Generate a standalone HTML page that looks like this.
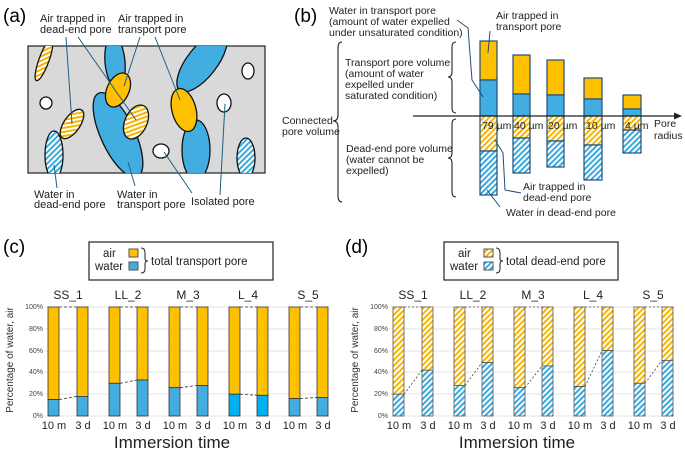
<!DOCTYPE html>
<html><head><meta charset="utf-8"><style>
html,body{margin:0;padding:0;background:#fff}
svg{display:block;font-family:"Liberation Sans",sans-serif}
</style></head><body>
<svg width="685" height="451" viewBox="0 0 685 451" xmlns="http://www.w3.org/2000/svg">
<defs>
<pattern id="hy" width="4" height="4" patternUnits="userSpaceOnUse" patternTransform="rotate(45)">
<rect width="4" height="4" fill="#fff"/><rect width="2" height="4" fill="#f7b500"/></pattern>
<pattern id="hb" width="4" height="4" patternUnits="userSpaceOnUse" patternTransform="rotate(45)">
<rect width="4" height="4" fill="#fff"/><rect width="2" height="4" fill="#3aa9dc"/></pattern>
<clipPath id="ca"><rect x="28" y="46" width="237" height="127"/></clipPath>
</defs>

<!-- (a) -->
<text x="3" y="22" font-size="19">(a)</text>
<rect x="28" y="46" width="237" height="127" fill="#d9d9d9" stroke="#222" stroke-width="1.2"/>
<g clip-path="url(#ca)" stroke="#111" stroke-width="1.3">
<ellipse cx="44" cy="60" rx="5" ry="22" transform="rotate(20 44 60)" fill="url(#hy)"/>
<ellipse cx="54" cy="155" rx="9" ry="24" fill="url(#hb)"/>
<ellipse cx="72" cy="124" rx="8" ry="17" transform="rotate(35 72 124)" fill="url(#hy)"/>
<ellipse cx="115" cy="62" rx="10" ry="26" transform="rotate(-5 115 62)" fill="#41ade0"/>
<ellipse cx="118" cy="135" rx="17" ry="46" transform="rotate(-25 118 135)" fill="#41ade0"/>
<ellipse cx="118" cy="90" rx="11" ry="18" transform="rotate(25 118 90)" fill="#ffc000"/>
<ellipse cx="136" cy="122" rx="11" ry="18" transform="rotate(25 136 122)" fill="url(#hy)"/>
<ellipse cx="202" cy="62" rx="15" ry="36" transform="rotate(38 202 62)" fill="#41ade0"/>
<ellipse cx="196" cy="150" rx="14" ry="30" fill="#41ade0"/>
<ellipse cx="184" cy="110" rx="12" ry="22" transform="rotate(-15 184 110)" fill="#ffc000"/>
<ellipse cx="46" cy="103" rx="6" ry="6" fill="#fff"/>
<ellipse cx="161" cy="151" rx="8" ry="7" fill="#fff"/>
<ellipse cx="248" cy="71" rx="6" ry="8" fill="#fff"/>
<ellipse cx="224" cy="103" rx="7" ry="9" fill="#fff"/>
<ellipse cx="246" cy="158" rx="9" ry="20" fill="url(#hb)"/>
</g>
<g stroke="#1f5f80" stroke-width="1" fill="none">
<line x1="66" y1="37" x2="72" y2="124"/>
<line x1="78" y1="37" x2="136" y2="120"/>
<line x1="140" y1="37" x2="124" y2="86"/>
<line x1="155" y1="37" x2="180" y2="100"/>
<line x1="54" y1="165" x2="57" y2="188"/>
<line x1="128" y1="162" x2="135" y2="186"/>
<line x1="164" y1="152" x2="192" y2="193"/>
<line x1="225" y1="104" x2="220" y2="195"/>
</g>
<g font-size="11" fill="#222">
<text x="40" y="22">Air trapped in</text><text x="40" y="33">dead-end pore</text>
<text x="118" y="22">Air trapped in</text><text x="118" y="33">transport pore</text>
<text x="34" y="198">Water in</text><text x="34" y="208">dead-end pore</text>
<text x="117" y="198">Water in</text><text x="117" y="208">transport pore</text>
<text x="191" y="205">Isolated pore</text>
</g>

<!-- (b) -->
<text x="294" y="22" font-size="19">(b)</text>
<g font-size="10.5" fill="#222">
<text x="329" y="14">Water in transport pore</text>
<text x="329" y="25">(amount of water expelled</text>
<text x="329" y="36">under unsaturated condition)</text>
<text x="496" y="19">Air trapped in</text><text x="496" y="30">transport pore</text>
<text x="345" y="66">Transport pore volume</text>
<text x="345" y="77">(amount of water</text>
<text x="345" y="88">expelled under</text>
<text x="345" y="99">saturated condition)</text>
<text x="282" y="124">Connected</text><text x="282" y="135">pore volume</text>
<text x="346" y="152">Dead-end pore volume</text>
<text x="346" y="163">(water cannot be</text>
<text x="346" y="174">expelled)</text>
<text x="523" y="190">Air trapped in</text><text x="523" y="201">dead-end pore</text>
<text x="506" y="216">Water in dead-end pore</text>
<text x="654" y="127">Pore</text><text x="654" y="139">radius</text>
</g>
<g stroke="#222" stroke-width="1.1" fill="none">
<path d="M342 42 Q338 42 338 48 L338 115 Q338 121 333 121 Q338 121 338 127 L338 196 Q338 202 342 202"/>
<path d="M456 42 Q452 42 452 47 L452 72 Q452 77 448 77 Q452 77 452 82 L452 108 Q452 113 456 113"/>
<path d="M456 119 Q452 119 452 124 L452 153 Q452 158 448 158 Q452 158 452 163 L452 192 Q452 197 456 197"/>
</g>
<g stroke="#1f4e79" stroke-width="1.2">
<rect x="480" y="41" width="17" height="39" fill="#ffc000"/><rect x="480" y="80" width="17" height="36" fill="#41ade0"/>
<rect x="480" y="116" width="17" height="35" fill="url(#hy)"/><rect x="480" y="151" width="17" height="44" fill="url(#hb)"/>
<rect x="513" y="55" width="17" height="39" fill="#ffc000"/><rect x="513" y="94" width="17" height="22" fill="#41ade0"/>
<rect x="513" y="116" width="17" height="22" fill="url(#hy)"/><rect x="513" y="138" width="17" height="35" fill="url(#hb)"/>
<rect x="547" y="60" width="17" height="35" fill="#ffc000"/><rect x="547" y="95" width="17" height="21" fill="#41ade0"/>
<rect x="547" y="116" width="17" height="25" fill="url(#hy)"/><rect x="547" y="141" width="17" height="26" fill="url(#hb)"/>
<rect x="584" y="78" width="18" height="21" fill="#ffc000"/><rect x="584" y="99" width="18" height="17" fill="#41ade0"/>
<rect x="584" y="116" width="18" height="29" fill="url(#hy)"/><rect x="584" y="145" width="18" height="35" fill="url(#hb)"/>
<rect x="623" y="95" width="18" height="14" fill="#ffc000"/><rect x="623" y="109" width="18" height="7" fill="#41ade0"/>
<rect x="623" y="116" width="18" height="14" fill="url(#hy)"/><rect x="623" y="130" width="18" height="23" fill="url(#hb)"/>
</g>
<line x1="413" y1="116" x2="676" y2="116" stroke="#222" stroke-width="1.2"/>
<polygon points="682,116 674,112.5 674,119.5" fill="#222"/>
<g font-size="10.5" fill="#222">
<text x="482" y="129">79 µm</text><text x="514" y="129">40 µm</text><text x="548" y="129">20 µm</text><text x="586" y="129">10 µm</text><text x="625" y="129">4 µm</text>
</g>
<g stroke="#1f4e79" stroke-width="1" fill="none">
<polyline points="457,20 468,28 472,80 483,97"/>
<line x1="490" y1="31" x2="488" y2="53"/>
<polyline points="495,140 503,153 505,190 521,193"/>
<line x1="487" y1="190" x2="500" y2="207"/>
</g>

<!-- (c) -->
<text x="3" y="253" font-size="19">(c)</text>
<rect x="89" y="242" width="184" height="38" fill="#fff" stroke="#222" stroke-width="1.2"/>
<g font-size="11.5" fill="#222">
<text x="103" y="257">air</text><text x="95" y="270">water</text>
<text x="151" y="265">total transport pore</text>
</g>
<rect x="129" y="249" width="9" height="8" fill="#ffc000" stroke="#555"/>
<rect x="129" y="262" width="9" height="8" fill="#41ade0" stroke="#555"/>
<path d="M141 248 Q145 248 145 253 L145 259 Q145 261 148 261 Q145 261 145 264 L145 269 Q145 273 141 273" fill="none" stroke="#222"/>

<!-- (d) legend -->
<text x="345" y="253" font-size="19">(d)</text>
<rect x="444" y="242" width="174" height="38" fill="#fff" stroke="#222" stroke-width="1.2"/>
<g font-size="11.5" fill="#222">
<text x="458" y="257">air</text><text x="450" y="270">water</text>
<text x="506" y="265">total dead-end pore</text>
</g>
<rect x="484" y="249" width="9" height="8" fill="url(#hy)" stroke="#555"/>
<rect x="484" y="262" width="9" height="8" fill="url(#hb)" stroke="#555"/>
<path d="M496 248 Q500 248 500 253 L500 259 Q500 261 503 261 Q500 261 500 264 L500 269 Q500 273 496 273" fill="none" stroke="#222"/>

<!-- chart grids -->
<g stroke="#ddd" stroke-width="0.8">
<line x1="45" y1="307" x2="330" y2="307"/><line x1="45" y1="329" x2="330" y2="329"/><line x1="45" y1="351" x2="330" y2="351"/><line x1="45" y1="372" x2="330" y2="372"/><line x1="45" y1="394" x2="330" y2="394"/><line x1="45" y1="416" x2="330" y2="416"/>
<line x1="390" y1="307" x2="675" y2="307"/><line x1="390" y1="329" x2="675" y2="329"/><line x1="390" y1="351" x2="675" y2="351"/><line x1="390" y1="372" x2="675" y2="372"/><line x1="390" y1="394" x2="675" y2="394"/><line x1="390" y1="416" x2="675" y2="416"/>
</g>
<g font-size="7" fill="#444" text-anchor="end">
<text x="43" y="309">100%</text><text x="43" y="331">80%</text><text x="43" y="353">60%</text><text x="43" y="374">40%</text><text x="43" y="396">20%</text><text x="43" y="418">0%</text>
<text x="388" y="309">100%</text><text x="388" y="331">80%</text><text x="388" y="353">60%</text><text x="388" y="374">40%</text><text x="388" y="396">20%</text><text x="388" y="418">0%</text>
</g>
<g font-size="10" fill="#333" text-anchor="middle">
<text transform="translate(13 360) rotate(-90)">Percentage of water, air</text>
<text transform="translate(358 360) rotate(-90)">Percentage of water, air</text>
</g>
<g font-size="12" fill="#222" text-anchor="middle">
<text x="68" y="299">SS_1</text><text x="128" y="299">LL_2</text><text x="188" y="299">M_3</text><text x="248" y="299">L_4</text><text x="308" y="299">S_5</text>
<text x="413" y="299">SS_1</text><text x="473" y="299">LL_2</text><text x="533" y="299">M_3</text><text x="593" y="299">L_4</text><text x="653" y="299">S_5</text>
</g>
<g font-size="11" fill="#222" text-anchor="middle">
<text x="54" y="429">10 m</text><text x="83" y="429">3 d</text><text x="115" y="429">10 m</text><text x="143" y="429">3 d</text><text x="175" y="429">10 m</text><text x="203" y="429">3 d</text><text x="235" y="429">10 m</text><text x="263" y="429">3 d</text><text x="295" y="429">10 m</text><text x="323" y="429">3 d</text>
<text x="399" y="429">10 m</text><text x="428" y="429">3 d</text><text x="460" y="429">10 m</text><text x="488" y="429">3 d</text><text x="520" y="429">10 m</text><text x="548" y="429">3 d</text><text x="580" y="429">10 m</text><text x="608" y="429">3 d</text><text x="640" y="429">10 m</text><text x="668" y="429">3 d</text>
</g>
<g font-size="17" fill="#222" text-anchor="middle">
<text x="172" y="448">Immersion time</text><text x="517" y="448">Immersion time</text>
</g>

<!-- (c) bars -->
<g stroke="#333" stroke-width="0.8">
<rect x="48" y="307" width="11" height="92.6" fill="#ffc000"/><rect x="48" y="399.6" width="11" height="16.4" fill="#41ade0"/>
<rect x="77" y="307" width="11" height="89.4" fill="#ffc000"/><rect x="77" y="396.4" width="11" height="19.6" fill="#41ade0"/>
<rect x="109" y="307" width="11" height="76.3" fill="#ffc000"/><rect x="109" y="383.3" width="11" height="32.7" fill="#41ade0"/>
<rect x="137" y="307" width="11" height="73" fill="#ffc000"/><rect x="137" y="380" width="11" height="36" fill="#41ade0"/>
<rect x="169" y="307" width="11" height="80.7" fill="#ffc000"/><rect x="169" y="387.7" width="11" height="28.3" fill="#41ade0"/>
<rect x="197" y="307" width="11" height="78.5" fill="#ffc000"/><rect x="197" y="385.5" width="11" height="30.5" fill="#41ade0"/>
<rect x="229" y="307" width="11" height="87.2" fill="#ffc000"/><rect x="229" y="394.2" width="11" height="21.8" fill="#00b0f0"/>
<rect x="257" y="307" width="11" height="88.3" fill="#ffc000"/><rect x="257" y="395.3" width="11" height="20.7" fill="#00b0f0"/>
<rect x="289" y="307" width="11" height="91.6" fill="#ffc000"/><rect x="289" y="398.6" width="11" height="17.4" fill="#41ade0"/>
<rect x="317" y="307" width="11" height="90.5" fill="#ffc000"/><rect x="317" y="397.5" width="11" height="18.5" fill="#41ade0"/>
</g>
<g stroke="#333" stroke-width="0.8" stroke-dasharray="3,2" fill="none">
<line x1="59" y1="307" x2="77" y2="307"/><line x1="59" y1="399.6" x2="77" y2="396.4"/>
<line x1="120" y1="307" x2="137" y2="307"/><line x1="120" y1="383.3" x2="137" y2="380"/>
<line x1="180" y1="307" x2="197" y2="307"/><line x1="180" y1="387.7" x2="197" y2="385.5"/>
<line x1="240" y1="307" x2="257" y2="307"/><line x1="240" y1="394.2" x2="257" y2="395.3"/>
<line x1="300" y1="307" x2="317" y2="307"/><line x1="300" y1="398.6" x2="317" y2="397.5"/>
</g>

<!-- (d) bars -->
<g stroke="#555" stroke-width="0.8">
<rect x="393" y="307" width="11" height="87.2" fill="url(#hy)"/><rect x="393" y="394.2" width="11" height="21.8" fill="url(#hb)"/>
<rect x="422" y="307" width="11" height="63.2" fill="url(#hy)"/><rect x="422" y="370.2" width="11" height="45.8" fill="url(#hb)"/>
<rect x="454" y="307" width="11" height="78.5" fill="url(#hy)"/><rect x="454" y="385.5" width="11" height="30.5" fill="url(#hb)"/>
<rect x="482" y="307" width="11" height="55.6" fill="url(#hy)"/><rect x="482" y="362.6" width="11" height="53.4" fill="url(#hb)"/>
<rect x="514" y="307" width="11" height="80.7" fill="url(#hy)"/><rect x="514" y="387.7" width="11" height="28.3" fill="url(#hb)"/>
<rect x="542" y="307" width="11" height="58.9" fill="url(#hy)"/><rect x="542" y="365.9" width="11" height="50.1" fill="url(#hb)"/>
<rect x="574" y="307" width="11" height="79.6" fill="url(#hy)"/><rect x="574" y="386.6" width="11" height="29.4" fill="url(#hb)"/>
<rect x="602" y="307" width="11" height="43.6" fill="url(#hy)"/><rect x="602" y="350.6" width="11" height="65.4" fill="url(#hb)"/>
<rect x="634" y="307" width="11" height="76.3" fill="url(#hy)"/><rect x="634" y="383.3" width="11" height="32.7" fill="url(#hb)"/>
<rect x="662" y="307" width="11" height="53.4" fill="url(#hy)"/><rect x="662" y="360.4" width="11" height="55.6" fill="url(#hb)"/>
</g>
<g stroke="#444" stroke-width="0.8" stroke-dasharray="2,2" fill="none">
<line x1="404" y1="307" x2="422" y2="307"/><line x1="404" y1="394.2" x2="422" y2="370.2"/>
<line x1="465" y1="307" x2="482" y2="307"/><line x1="465" y1="385.5" x2="482" y2="362.6"/>
<line x1="525" y1="307" x2="542" y2="307"/><line x1="525" y1="387.7" x2="542" y2="365.9"/>
<line x1="585" y1="307" x2="602" y2="307"/><line x1="585" y1="386.6" x2="602" y2="350.6"/>
<line x1="645" y1="307" x2="662" y2="307"/><line x1="645" y1="383.3" x2="662" y2="360.4"/>
</g>
</svg>
</body></html>
